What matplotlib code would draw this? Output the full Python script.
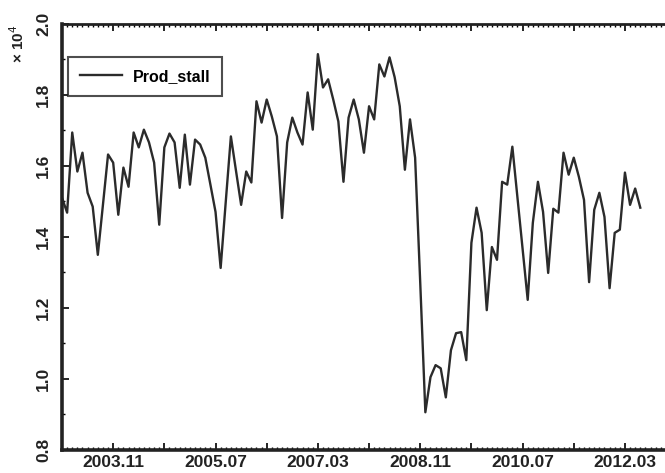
import matplotlib
matplotlib.use("Agg")
import matplotlib.pyplot as plt
import numpy as np
from matplotlib.ticker import MultipleLocator, FixedLocator

# Monthly series, 2003.01 .. 2012.06 (values in units of 1e4)
start_year, start_month = 2003, 1
values = [
    1.510, 1.468, 1.694, 1.584, 1.637, 1.524, 1.485, 1.349, 1.490, 1.632,
    1.609, 1.462, 1.595, 1.541, 1.694, 1.652, 1.702, 1.666, 1.609, 1.434,
    1.652, 1.691, 1.666, 1.538, 1.688, 1.547, 1.674, 1.660, 1.623, 1.547,
    1.470, 1.312, 1.499, 1.683, 1.586, 1.490, 1.584, 1.553, 1.782, 1.722,
    1.787, 1.739, 1.683, 1.453, 1.666, 1.736, 1.694, 1.660, 1.807, 1.702,
    1.915, 1.821, 1.844, 1.787, 1.725, 1.555, 1.736, 1.787, 1.731, 1.637,
    1.768, 1.731, 1.886, 1.852, 1.906, 1.850, 1.768, 1.589, 1.731, 1.623,
    1.270, 0.905, 1.004, 1.038, 1.029, 0.947, 1.080, 1.128, 1.131, 1.052,
    1.383, 1.482, 1.411, 1.193, 1.371, 1.335, 1.555, 1.547, 1.654, 1.510,
    1.366, 1.222, 1.439, 1.555, 1.470, 1.298, 1.479, 1.468, 1.637, 1.575,
    1.623, 1.569, 1.504, 1.272, 1.476, 1.524, 1.456, 1.255, 1.411, 1.420,
    1.581, 1.490, 1.536, 1.482,
]
tick_labels = ["2003.11", "2005.07", "2007.03", "2008.11", "2010.07", "2012.03"]
y_tick_labels = ["0.8", "1.0", "1.2", "1.4", "1.6", "1.8", "2.0"]
series_name = "Prod_stall"

months = np.arange(len(values))  # month index since 2003.01


def label_to_index(lbl):
    y, m = lbl.split(".")
    return (int(y) - start_year) * 12 + (int(m) - start_month)


fig = plt.figure(figsize=(6.65, 4.73), dpi=100)
ax = fig.add_axes([62 / 665, 1 - 449.5 / 473, (671 - 62) / 665, (449.5 - 24) / 473])

ax.plot(months, values, color="#2b2b2b", lw=1.7, label=series_name)

ax.set_xlim(0, 119)
ax.set_ylim(0.8, 2.0)

label_pos = [label_to_index(l) for l in tick_labels]
major_pos = list(range(label_pos[0] - 20, 121, 10))
major_pos = [p for p in major_pos if 0 <= p <= 119]
ax.xaxis.set_major_locator(FixedLocator(major_pos))
ax.set_xticklabels([tick_labels[label_pos.index(p)] if p in label_pos else "" for p in major_pos])
ax.xaxis.set_minor_locator(MultipleLocator(1))

ax.yaxis.set_major_locator(FixedLocator([float(v) for v in y_tick_labels]))
ax.set_yticklabels(y_tick_labels, rotation=90, va="center")
ax.yaxis.set_minor_locator(MultipleLocator(0.1))

family = ["Liberation Sans", "DejaVu Sans"]
for lab in ax.get_xticklabels() + ax.get_yticklabels():
    lab.set_fontfamily(family)
    lab.set_fontweight("bold")
    lab.set_fontsize(12.5)
    lab.set_color("#222222")

ax.tick_params(axis="both", which="both", direction="in", top=True, right=False)
ax.tick_params(axis="both", which="major", length=5, width=1.2)
ax.tick_params(axis="both", which="minor", length=2.5, width=1.0)
ax.tick_params(axis="x", which="major", pad=4)
ax.tick_params(axis="y", which="major", pad=8)

for s in ["left", "bottom"]:
    ax.spines[s].set_linewidth(2.6)
ax.spines["top"].set_linewidth(2.0)
ax.spines["right"].set_visible(False)
for s in ax.spines.values():
    s.set_color("#222222")

fig.text(18 / 665, 1 - 44 / 473, "× 10$^4$", rotation=90, ha="center", va="center",
         fontsize=11, fontweight="bold", family=family, color="#222222")

leg = ax.legend(loc="upper left", bbox_to_anchor=((68 - 62) / 609, (449.5 - 57) / 425.5),
                borderaxespad=0, frameon=True, fancybox=False, handlelength=2.6,
                prop=dict(family=family, weight="bold", size=11.5),
                borderpad=0.75, handletextpad=0.7)
leg.get_frame().set_edgecolor("#222222")
leg.get_frame().set_linewidth(1.5)

fig.savefig("out.png", dpi=100)
